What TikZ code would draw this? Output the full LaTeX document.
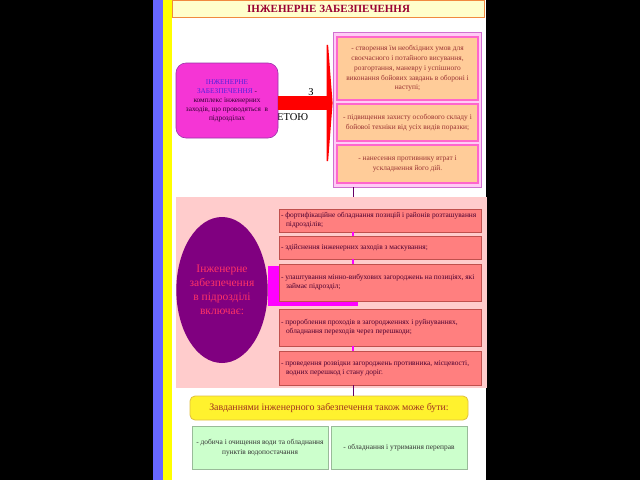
\documentclass[tikz,border=0pt]{standalone}
\usepackage{fontspec}
\setmainfont{Liberation Serif}
\usetikzlibrary{shapes.geometric,arrows.meta}
\definecolor{stripblue}{HTML}{6666FF}
\definecolor{stripyellow}{HTML}{FFFF00}
\definecolor{titlefill}{HTML}{FFFFCC}
\definecolor{titledraw}{HTML}{F08A40}
\definecolor{titletext}{HTML}{990033}
\definecolor{magfill}{HTML}{F535D5}
\definecolor{magdraw}{HTML}{9933AA}
\definecolor{deftext}{HTML}{5522DD}
\definecolor{darktext}{HTML}{330033}
\definecolor{grpfill}{HTML}{FFCCF5}
\definecolor{grpdraw}{HTML}{D070D0}
\definecolor{peach}{HTML}{FFCC99}
\definecolor{peachdraw}{HTML}{FF66CC}
\definecolor{browntext}{HTML}{993333}
\definecolor{panelfill}{HTML}{FFCCCC}
\definecolor{ellfill}{HTML}{800080}
\definecolor{elltext}{HTML}{FF3366}
\definecolor{salmon}{HTML}{FF7F7F}
\definecolor{salmondraw}{HTML}{C0504D}
\definecolor{saltext}{HTML}{4B0030}
\definecolor{magenta2}{HTML}{FF00FF}
\definecolor{linepurple}{HTML}{660066}
\definecolor{yelfill}{HTML}{FFF22E}
\definecolor{yeldraw}{HTML}{E0C040}
\definecolor{yeltext}{HTML}{A03020}
\definecolor{greenfill}{HTML}{CCFFCC}
\definecolor{greendraw}{HTML}{99BB99}
\definecolor{greentext}{HTML}{333333}
\definecolor{arrowred}{HTML}{FF0000}
\newcommand{\contline}{\hspace*{5pt}}
\begin{document}
\begin{tikzpicture}[x=1pt,y=-1pt,
  titlebox/.style={draw=titledraw, line width=1.5pt, fill=titlefill, minimum width=312pt, minimum height=17pt, inner sep=0pt, text=titletext, font=\fontsize{11}{12}\selectfont\bfseries},
  defbox/.style={draw=magdraw, line width=0.6pt, fill=magfill, rounded corners=10pt, minimum width=102pt, minimum height=75pt, inner sep=2pt, align=center, font=\fontsize{7.3}{9}\selectfont},
  grpbox/.style={draw=grpdraw, line width=0.8pt, fill=grpfill, minimum width=148pt, minimum height=155pt, inner sep=0pt},
  peachbox/.style={draw=peachdraw, line width=1.2pt, fill=peach, minimum width=141pt, inner sep=2pt, text width=133pt, align=flush center, text=browntext, font=\fontsize{7.4}{9.7}\selectfont},
  panelbox/.style={fill=panelfill, minimum width=311pt, minimum height=191pt, inner sep=0pt},
  ellbox/.style={ellipse, fill=ellfill, minimum width=90pt, minimum height=146pt, inner sep=0pt, text=elltext, align=center, font=\fontsize{11.5}{14}\selectfont},
  magbar/.style={fill=magenta2, minimum width=90pt, minimum height=40pt, inner sep=0pt},
  salbox/.style={draw=salmondraw, line width=0.8pt, fill=salmon, minimum width=202pt, inner sep=2pt, text width=198pt, align=flush left, text=saltext, font=\fontsize{7.4}{9}\selectfont},
  thinline/.style={draw=linepurple, line width=0.6pt},
  magseg/.style={draw=magenta2, line width=2.5pt},
  yelbox/.style={draw=yeldraw, line width=0.8pt, fill=yelfill, rounded corners=5pt, minimum width=278pt, minimum height=24pt, inner sep=0pt, text=yeltext, font=\fontsize{9.9}{11}\selectfont},
  greenbox/.style={draw=greendraw, line width=0.8pt, fill=greenfill, minimum width=136pt, minimum height=43pt, inner sep=2pt, text width=132pt, align=flush center, text=greentext, font=\fontsize{7.4}{9.5}\selectfont},
  bigarrow/.style={draw=arrowred, line width=14pt, -{Triangle[length=6pt,width=155pt]}, arrowred},
  bigtext/.style={inner sep=0pt, font=\fontsize{10.5}{12}\selectfont, text=black}
]
\useasboundingbox (0,0) rectangle (640,480);
\fill[black] (0,0) rectangle (640,480);
\fill[white] (172,0) rectangle (486,480);
\fill[stripblue] (153,0) rectangle (163,480);
\fill[stripyellow] (163,0) rectangle (172,480);

\coordinate (vx) at (353,0);
\coordinate (bar) at (0,103);

% title
\node[titlebox] (title) at (328.5,9) {ІНЖЕНЕРНЕ ЗАБЕЗПЕЧЕННЯ};

% labels of the arrow
\node[bigtext, anchor=base] (lblz) at (311,95) {З};
\node[bigtext, anchor=base west] (lblm) at (277,120) {ЕТОЮ};

% definition box
\node[defbox] (def) at (227,100.5) {\textcolor{deftext}{ІНЖЕНЕРНЕ}\\ \textcolor{deftext}{ЗАБЕЗПЕЧЕННЯ} \textcolor{darktext}{-}\\ \textcolor{darktext}{комплекс інженерних}\\ \textcolor{darktext}{заходів, що проводяться\ \ в}\\ \textcolor{darktext}{підрозділах}};

% purpose group
\node[grpbox] (grp) at (407,109.5) {};
\node[peachbox, minimum height=63pt] (p1) at (407.5,68.5) {- створення їм необхідних умов для своєчасного і потайного висування, розгортання, маневру і успішного виконання бойових завдань в обороні і наступі;};
\node[peachbox, minimum height=37pt] (p2) at (407.5,122.5) {- підвищення захисту особового складу і бойової техніки від усіх видів поразки;};
\node[peachbox, minimum height=38pt] (p3) at (407.5,164) {- нанесення противнику втрат і\\ ускладнення його дій.};

% big arrow
\draw[bigarrow] (def.east |- bar) -- (grp.west |- bar);

% middle panel
\node[panelbox] (panel) at (331.5,292.5) {};
\draw[thinline] (grp.south -| vx) -- (panel.north -| vx);
\node[magbar] (mag) at (313,286) {};
\node[ellbox] (ell) at (222,290) {Інженерне\\забезпечення\\в підрозділі\\включає:};

\node[salbox, minimum height=23pt] (ma) at (380,220.5) {- фортифікаційне обладнання позицій і районів розташування\\ \contline підрозділів;};
\node[salbox, minimum height=23pt] (mb) at (380,247.5) {- здійснення інженерних заходів з маскування;};
\node[salbox, minimum height=37pt] (mc) at (380,282.5) {- улаштування мінно-вибухових загороджень на позиціях, які\\ \contline займає підрозділ;};
\node[salbox, minimum height=37pt] (md) at (380,327.5) {- пророблення проходів в загородженнях і руйнуваннях,\\ \contline обладнання переходів через перешкоди;};
\node[salbox, minimum height=34pt] (me) at (380,368) {- проведення розвідки загороджень противника, місцевості,\\ \contline водних перешкод і стану доріг.};

\draw[magseg] (ma.south -| vx) -- (mb.north -| vx);
\draw[magseg] (mb.south -| vx) -- (mc.north -| vx);
\draw[magseg] (md.south -| vx) -- (me.north -| vx);

% bottom
\node[yelbox] (yel) at (329,408) {Завданнями інженерного забезпечення також може бути:};
\draw[thinline] (me.south -| vx) -- (yel.north -| vx);
\node[greenbox] (g1) at (260,447.5) {- добича і очищення води та обладнання пунктів водопостачання};
\node[greenbox] (g2) at (399,447.5) {- обладнання і утримання переправ};
\end{tikzpicture}
\end{document}
